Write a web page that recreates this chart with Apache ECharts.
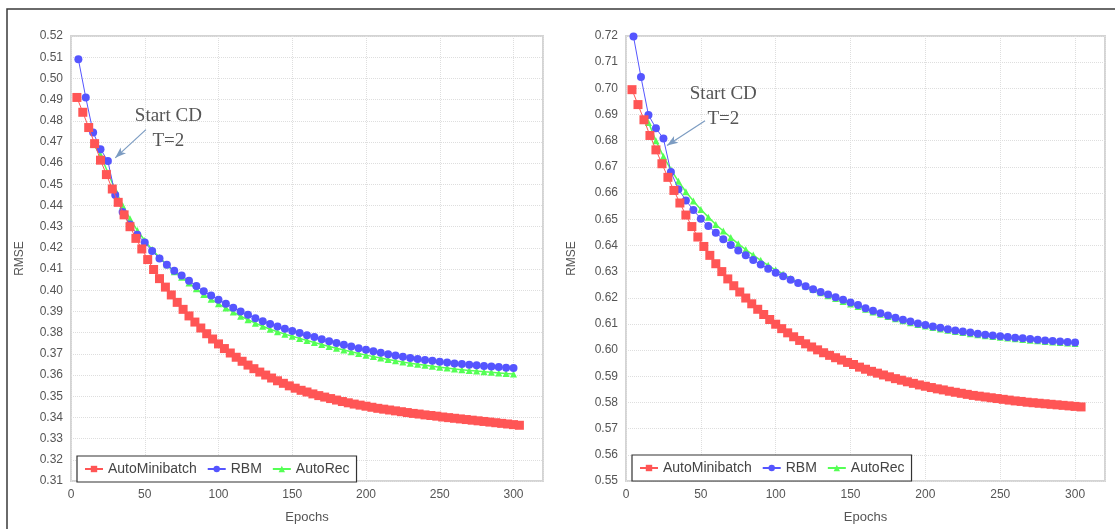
<!DOCTYPE html>
<html>
<head>
<meta charset="utf-8">
<title>RMSE vs Epochs</title>
<script src="https://cdn.jsdelivr.net/npm/echarts/dist/echarts.min.js"></script>
<style>
  html, body { margin: 0; padding: 0; background: #fff; }
  #chart { width: 1115px; height: 529px; }
</style>
</head>
<body>
<div id="chart"></div>
<script>
// epochs at which each model was sampled
const epochsMinibatch = [4, 8, 12, 16, 20, 24, 28, 32, 36, 40, 44, 48, 52, 56, 60, 64, 68, 72, 76, 80,
  84, 88, 92, 96, 100, 104, 108, 112, 116, 120, 124, 128, 132, 136, 140, 144, 148, 152, 156, 160,
  164, 168, 172, 176, 180, 184, 188, 192, 196, 200, 204, 208, 212, 216, 220, 224, 228, 232, 236, 240,
  244, 248, 252, 256, 260, 264, 268, 272, 276, 280, 284, 288, 292, 296, 300, 304];
const epochsRbm = [5, 10, 15, 20, 25, 30, 35, 40, 45, 50, 55, 60, 65, 70, 75, 80, 85, 90, 95, 100,
  105, 110, 115, 120, 125, 130, 135, 140, 145, 150, 155, 160, 165, 170, 175, 180, 185, 190, 195, 200,
  205, 210, 215, 220, 225, 230, 235, 240, 245, 250, 255, 260, 265, 270, 275, 280, 285, 290, 295, 300];
const epochsAutoRec = [15, 20, 25, 30, 35, 40, 45, 50, 55, 60, 65, 70, 75, 80, 85, 90, 95, 100,
  105, 110, 115, 120, 125, 130, 135, 140, 145, 150, 155, 160, 165, 170, 175, 180, 185, 190, 195, 200,
  205, 210, 215, 220, 225, 230, 235, 240, 245, 250, 255, 260, 265, 270, 275, 280, 285, 290, 295, 300];

// left panel
const leftMinibatch = [0.4910, 0.4840, 0.4768, 0.4692, 0.4614, 0.4546, 0.4478, 0.4415, 0.4356, 0.4300,
  0.4245, 0.4195, 0.4145, 0.4098, 0.4055, 0.4015, 0.3978, 0.3943, 0.3910, 0.3879,
  0.3850, 0.3822, 0.3795, 0.3770, 0.3747, 0.3725, 0.3704, 0.3684, 0.3665, 0.3647,
  0.3630, 0.3614, 0.3600, 0.3586, 0.3573, 0.3561, 0.3549, 0.3538, 0.3528, 0.3520,
  0.3511, 0.3503, 0.3496, 0.3489, 0.3482, 0.3475, 0.3469, 0.3463, 0.3458, 0.3453,
  0.3448, 0.3443, 0.3439, 0.3435, 0.3431, 0.3427, 0.3423, 0.3419, 0.3416, 0.3412,
  0.3409, 0.3406, 0.3402, 0.3399, 0.3396, 0.3393, 0.3390, 0.3387, 0.3384, 0.3381,
  0.3378, 0.3375, 0.3372, 0.3369, 0.3366, 0.3363];
const leftRbm = [0.5090, 0.4910, 0.4745, 0.4666, 0.4610, 0.4450, 0.4370, 0.4310, 0.4262, 0.4225,
  0.4185, 0.4150, 0.4120, 0.4092, 0.4070, 0.4045, 0.4020, 0.3995, 0.3975, 0.3955,
  0.3936, 0.3918, 0.3900, 0.3884, 0.3868, 0.3854, 0.3841, 0.3829, 0.3818, 0.3808,
  0.3798, 0.3788, 0.3779, 0.3769, 0.3760, 0.3751, 0.3743, 0.3735, 0.3727, 0.3719,
  0.3712, 0.3705, 0.3698, 0.3692, 0.3686, 0.3681, 0.3676, 0.3671, 0.3667, 0.3663,
  0.3659, 0.3655, 0.3652, 0.3649, 0.3646, 0.3643, 0.3640, 0.3638, 0.3635, 0.3633];
const leftAutoRec = [0.4690, 0.4640, 0.4555, 0.4475, 0.4400, 0.4338, 0.4282, 0.4235, 0.4192, 0.4155,
  0.4120, 0.4088, 0.4062, 0.4034, 0.4007, 0.3980, 0.3958, 0.3936, 0.3916, 0.3897,
  0.3878, 0.3861, 0.3845, 0.3830, 0.3816, 0.3804, 0.3793, 0.3783, 0.3773, 0.3763,
  0.3754, 0.3744, 0.3735, 0.3726, 0.3718, 0.3710, 0.3702, 0.3694, 0.3687, 0.3680,
  0.3673, 0.3667, 0.3661, 0.3656, 0.3651, 0.3646, 0.3641, 0.3637, 0.3633, 0.3629,
  0.3625, 0.3622, 0.3619, 0.3616, 0.3613, 0.3610, 0.3607, 0.3605];

// right panel
const rightMinibatch = [0.6995, 0.6938, 0.6880, 0.6820, 0.6765, 0.6712, 0.6660, 0.6610, 0.6562, 0.6516,
  0.6472, 0.6432, 0.6396, 0.6362, 0.6330, 0.6300, 0.6272, 0.6246, 0.6222, 0.6199,
  0.6177, 0.6156, 0.6136, 0.6117, 0.6099, 0.6082, 0.6066, 0.6051, 0.6037, 0.6024,
  0.6012, 0.6001, 0.5990, 0.5980, 0.5971, 0.5962, 0.5953, 0.5945, 0.5935, 0.5927,
  0.5919, 0.5912, 0.5905, 0.5898, 0.5891, 0.5885, 0.5879, 0.5873, 0.5867, 0.5862,
  0.5857, 0.5852, 0.5848, 0.5843, 0.5839, 0.5835, 0.5831, 0.5827, 0.5824, 0.5821,
  0.5818, 0.5815, 0.5812, 0.5809, 0.5806, 0.5804, 0.5801, 0.5799, 0.5797, 0.5795,
  0.5793, 0.5791, 0.5789, 0.5787, 0.5785, 0.5783];
const rightRbm = [0.7198, 0.7043, 0.6898, 0.6848, 0.6808, 0.6680, 0.6615, 0.6572, 0.6535, 0.6502,
  0.6474, 0.6448, 0.6424, 0.6402, 0.6381, 0.6362, 0.6344, 0.6327, 0.6311, 0.6296,
  0.6282, 0.6269, 0.6256, 0.6244, 0.6233, 0.6222, 0.6212, 0.6202, 0.6192, 0.6182,
  0.6172, 0.6160, 0.6150, 0.6141, 0.6132, 0.6124, 0.6116, 0.6109, 0.6102, 0.6096,
  0.6090, 0.6085, 0.6080, 0.6075, 0.6071, 0.6067, 0.6063, 0.6059, 0.6056, 0.6053,
  0.6050, 0.6047, 0.6045, 0.6042, 0.6040, 0.6037, 0.6035, 0.6033, 0.6031, 0.6029];
const rightAutoRec = [0.6870, 0.6800, 0.6740, 0.6690, 0.6645, 0.6605, 0.6570, 0.6537, 0.6508, 0.6480,
  0.6455, 0.6430, 0.6406, 0.6384, 0.6363, 0.6343, 0.6324, 0.6306, 0.6290, 0.6274,
  0.6259, 0.6245, 0.6232, 0.6219, 0.6208, 0.6197, 0.6186, 0.6176, 0.6167, 0.6156,
  0.6146, 0.6137, 0.6128, 0.6120, 0.6112, 0.6105, 0.6098, 0.6092, 0.6086, 0.6081,
  0.6076, 0.6071, 0.6067, 0.6063, 0.6059, 0.6055, 0.6052, 0.6049, 0.6046, 0.6043,
  0.6041, 0.6038, 0.6036, 0.6033, 0.6031, 0.6029, 0.6027, 0.6025];

const seriesNames = ["AutoMinibatch", "RBM", "AutoRec"];
const seriesColors = ["#ff5555", "#5555ff", "#55ff55"];

// where the "Start CD" note and its arrow sit, in data units
const leftNote = { text: [66, 0.4763], from: [50.8, 0.4758], to: [30, 0.4625] };
const rightNote = { text: [65, 0.6932], from: [52.8, 0.6876], to: [27.4, 0.6782] };

const pairs = (xs, ys) => xs.map((x, i) => [x, ys[i]]);

const chart = echarts.init(document.getElementById("chart"));

function xAxisFor(grid) {
  return {
    type: "value",
    gridIndex: grid,
    min: 0,
    max: 320,
    interval: 50,
    name: "Epochs",
    nameLocation: "middle",
    nameGap: 30,
    nameTextStyle: { fontFamily: "Liberation Sans", fontSize: 13, color: "#555" },
    axisLine: { show: false },
    axisTick: { show: false },
    axisLabel: { showMaxLabel: false, margin: 8, fontFamily: "Liberation Sans", fontSize: 12, color: "#555" },
    splitLine: { lineStyle: { color: "#dedede", type: "dotted", width: 1 } }
  };
}

function yAxisFor(grid, min, max, gap) {
  return {
    type: "value",
    gridIndex: grid,
    min: min,
    max: max,
    interval: 0.01,
    name: "RMSE",
    nameLocation: "middle",
    nameGap: gap,
    nameTextStyle: { fontFamily: "Liberation Sans", fontSize: 12, color: "#555" },
    axisLine: { show: false },
    axisTick: { show: false },
    axisLabel: {
      margin: 8, fontFamily: "Liberation Sans", fontSize: 12, color: "#555",
      formatter: v => v.toFixed(2)
    },
    splitLine: { lineStyle: { color: "#dedede", type: "dotted", width: 1 } }
  };
}

function seriesFor(grid, minibatch, rbm, autoRec, note) {
  return [
    {
      name: seriesNames[0], type: "line", xAxisIndex: grid, yAxisIndex: grid, z: 4,
      data: pairs(epochsMinibatch, minibatch),
      symbol: "rect", symbolSize: 9, showAllSymbol: true,
      lineStyle: { width: 1, color: seriesColors[0] },
      itemStyle: { color: seriesColors[0] }
    },
    {
      name: seriesNames[1], type: "line", xAxisIndex: grid, yAxisIndex: grid, z: 3,
      data: pairs(epochsRbm, rbm),
      symbol: "circle", symbolSize: 8, showAllSymbol: true,
      lineStyle: { width: 1, color: seriesColors[1] },
      itemStyle: { color: seriesColors[1] },
      markLine: {
        silent: true,
        symbol: ["none", "arrow"],
        symbolSize: [6, 11],
        label: { show: false },
        lineStyle: { color: "#7c9cc2", width: 1.2, type: "solid" },
        data: [[{ coord: note.from }, { coord: note.to }]]
      },
      markPoint: {
        silent: true,
        symbol: "circle",
        symbolSize: 1,
        itemStyle: { color: "rgba(0,0,0,0)" },
        label: {
          show: true, position: "inside",
          formatter: "Start CD\nT=2",
          fontFamily: "Liberation Serif", fontSize: 19, lineHeight: 25,
          color: "#555", align: "center"
        },
        data: [{ coord: note.text }]
      }
    },
    {
      name: seriesNames[2], type: "line", xAxisIndex: grid, yAxisIndex: grid, z: 2,
      data: pairs(epochsAutoRec, autoRec),
      symbol: "triangle", symbolSize: 7, showAllSymbol: true,
      lineStyle: { width: 1.5, color: seriesColors[2] },
      itemStyle: { color: seriesColors[2] }
    }
  ];
}

function legendFor(left, top) {
  return {
    data: seriesNames,
    left: left,
    top: top,
    orient: "horizontal",
    backgroundColor: "#fff",
    borderColor: "#333",
    borderWidth: 1.2,
    padding: [6, 7],
    itemWidth: 18,
    itemHeight: 8,
    itemGap: 10,
    z: 10,
    textStyle: { fontFamily: "Liberation Sans", fontSize: 14, color: "#444" }
  };
}

const option = {
  animation: false,
  backgroundColor: "#fff",
  graphic: [{
    type: "rect",
    shape: { x: 7, y: 9, width: 1130, height: 540 },
    style: { fill: "none", stroke: "#3a3a3a", lineWidth: 1.5 },
    silent: true
  }],
  grid: [
    { left: 71, top: 36, width: 472, height: 451, show: true, borderColor: "#d4d4d4", borderWidth: 2, backgroundColor: "#fff" },
    { left: 626, top: 36, width: 479, height: 451, show: true, borderColor: "#d4d4d4", borderWidth: 2, backgroundColor: "#fff" }
  ],
  legend: [legendFor(77, 456), legendFor(632, 455)],
  xAxis: [xAxisFor(0), xAxisFor(1)],
  yAxis: [yAxisFor(0, 0.31, 0.52, 45), yAxisFor(1, 0.55, 0.72, 48)],
  series: [
    ...seriesFor(0, leftMinibatch, leftRbm, leftAutoRec, leftNote),
    ...seriesFor(1, rightMinibatch, rightRbm, rightAutoRec, rightNote)
  ]
};

chart.setOption(option);
</script>
</body>
</html>
